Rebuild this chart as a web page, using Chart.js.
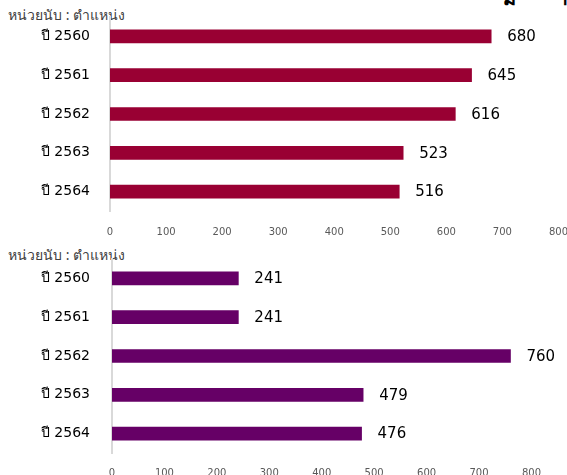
<!DOCTYPE html>
<html>
<head>
<meta charset="utf-8">
<script src="https://cdn.jsdelivr.net/npm/chart.js@4.4.1/dist/chart.umd.min.js"></script>
<style>
  html, body { margin: 0; padding: 0; background: #fff; overflow: hidden; width: 567px; height: 475px; }
  body { position: relative; font-family: "DejaVu Sans", "Noto Sans", sans-serif; }
  .box { position: absolute; left: 0; }
  .unit { position: absolute; left: 8px; font-family: "Noto Sans", sans-serif; font-size: 14px; color: #404040; white-space: nowrap; }
  .cut { position: absolute; top: -18px; font-size: 20px; font-weight: bold; color: #000; }
</style>
</head>
<body>
<div class="cut" style="left:503px">ม</div>
<div class="cut" style="left:556px">ฯ</div>
<div class="unit" style="top:4px">หน่วยนับ : ตำแหน่ง</div>
<div class="unit" style="top:244px">หน่วยนับ : ตำแหน่ง</div>
<div class="box" style="top:0;width:583px;height:253px"><canvas id="chart_top"></canvas></div>
<div class="box" style="top:240px;width:555px;height:253px"><canvas id="chart_bottom"></canvas></div>
<script>
const YEARS        = ["ปี 2560", "ปี 2561", "ปี 2562", "ปี 2563", "ปี 2564"];
const TOP_VALUES    = [680, 645, 616, 523, 516];
const BOTTOM_VALUES = [241, 241, 760, 479, 476];
const X_MAX  = 800;
const X_STEP = 100;

const FONT = '"DejaVu Sans", "Noto Sans", sans-serif';

// วาดตัวเลขท้ายแท่ง (ไม่มี datalabels plugin)
const barValueLabels = {
  id: "barValueLabels",
  afterDatasetsDraw(chart) {
    const { ctx } = chart;
    const meta = chart.getDatasetMeta(0);
    ctx.save();
    ctx.font = `15px ${FONT}`;
    ctx.fillStyle = "#000";
    ctx.textAlign = "left";
    ctx.textBaseline = "middle";
    meta.data.forEach((bar, i) => {
      ctx.fillText(String(chart.data.datasets[0].data[i]), bar.x + 16, bar.y + 1);
    });
    ctx.restore();
  },
};

function renderBarChart(id, values, color, opts) {
  const ctx = document.getElementById(id)?.getContext("2d");
  if (!ctx) return;
  return new Chart(ctx, {
    type: "bar",
    data: {
      labels: YEARS,
      datasets: [{
        data: values,
        backgroundColor: color,
        borderWidth: 0,
        barThickness: 13,
      }],
    },
    options: {
      indexAxis: "y",
      responsive: true,
      maintainAspectRatio: false,
      animation: false,
      layout: { padding: { top: opts.top, right: 9, left: 0, bottom: 0 } },
      plugins: { legend: { display: false }, tooltip: { enabled: false } },
      scales: {
        x: {
          min: 0, max: X_MAX,
          grid: { display: false, drawTicks: false },
          border: { display: false },
          ticks: { stepSize: X_STEP, padding: opts.xPad, color: "#595959", font: { family: FONT, size: 10 } },
        },
        y: {
          grid: { display: false, drawTicks: false },
          border: { display: true, color: "#d9d9d9", width: 2 },
          ticks: { padding: opts.yPad, color: "#000", font: { family: FONT, size: 14 } },
          afterFit: (scale) => {
            scale.width = opts.axisW;
            scale.paddingTop = 0;
            scale.paddingBottom = 0;
          },
        },
      },
    },
    plugins: [barValueLabels],
  });
}

renderBarChart("chart_top", TOP_VALUES, "#990033", { top: 17, xPad: 15, yPad: 20, axisW: 110 });
renderBarChart("chart_bottom", BOTTOM_VALUES, "#660066", { top: 19, xPad: 14, yPad: 22, axisW: 112 });
</script>
</body>
</html>
